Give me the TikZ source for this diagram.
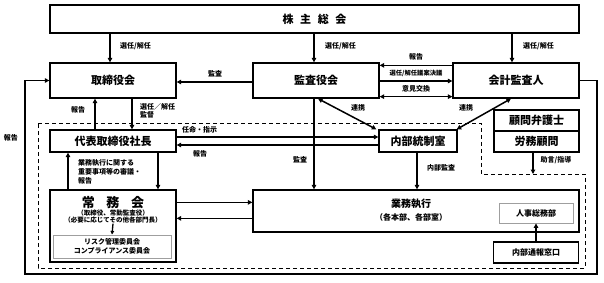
\documentclass[tikz,border=0pt]{standalone}
\usepackage{fontspec}
\setmainfont{Noto Sans CJK JP}
\usepackage{tikz}
\usetikzlibrary{arrows.meta,calc}

\tikzset{
  orgbox/.style={draw, line width=1.3pt, inner sep=0pt, font=\bfseries\fontsize{11}{12}\selectfont},
  subbox/.style={draw=gray!75, line width=0.9pt, inner sep=0pt},
  arr/.style={line width=1.5pt, -{Triangle[length=4.5pt,width=4.5pt]}},
  darr/.style={line width=1.5pt, {Triangle[length=4.5pt,width=4.5pt]}-{Triangle[length=4.5pt,width=4.5pt]}},
  lbl/.style={inner sep=0pt, font=\bfseries\fontsize{7}{8}\selectfont},
  smalltxt/.style={inner sep=0pt, font=\bfseries\fontsize{6.5}{7.5}\selectfont, align=center},
}

\begin{document}
\begin{tikzpicture}[x=1pt,y=-1pt]
  \useasboundingbox (0,0) rectangle (604,283);

  % Top row
  \node[orgbox,minimum width=529pt,minimum height=28pt] (soukai) at (314.5,19) {株\hspace{0.6em}主\hspace{0.6em}総\hspace{0.6em}会};
  \node[orgbox,minimum width=126pt,minimum height=35pt] (torishimari) at (113,80.5) {取締役会};
  \node[orgbox,minimum width=126pt,minimum height=35pt] (kansayaku) at (316,80.5) {監査役会};
  \node[orgbox,minimum width=126pt,minimum height=35pt] (kaikei) at (516,80.5) {会計監査人};

  % Middle row
  \node[orgbox,minimum width=126pt,minimum height=22pt] (daihyo) at (113,141) {代表取締役社長};
  \node[orgbox,minimum width=78pt,minimum height=22pt] (naibu) at (418,141) {内部統制室};
  \node[orgbox,minimum width=85pt,minimum height=21pt] (komon) at (536.5,120.5) {顧問弁護士};
  \node[orgbox,minimum width=85pt,minimum height=21pt] (roumu) at (536.5,141.5) {労務顧問};

  % Bottom row
  \node[orgbox,minimum width=126pt,minimum height=72pt] (joumu) at (113,226) {};
  \node[inner sep=0pt,font=\bfseries\fontsize{13}{14}\selectfont] (joumuTitle) at (113,203) {常\hspace{0.9em}務\hspace{0.9em}会};
  \node[smalltxt] (joumuSub) at (113,216.5) {（取締役、常勤監査役）\\（必要に応じてその他各部門長）};
  \node[subbox,minimum width=118pt,minimum height=23pt,font=\bfseries\fontsize{7}{9}\selectfont,align=center] (risk) at (112,246.5) {リスク管理委員会\\コンプライアンス委員会};
  \node[orgbox,minimum width=326pt,minimum height=42pt] (gyomu) at (416,211) {};
  \node[inner sep=0pt,font=\bfseries\fontsize{10}{11}\selectfont] (gyomuTitle) at (411,204) {業務執行};
  \node[inner sep=0pt,font=\bfseries\fontsize{8}{9}\selectfont] (gyomuSub) at (411,217.5) {（各本部、各部室）};
  \node[subbox,minimum width=74pt,minimum height=20pt,font=\bfseries\fontsize{8}{9}\selectfont] (jinji) at (536,213) {人事総務部};
  \node[orgbox,minimum width=85pt,minimum height=21pt,font=\bfseries\fontsize{8}{9}\selectfont] (tsuho) at (536,252.5) {内部通報窓口};

  % Dashed area
  \draw[line width=0.8pt,dash pattern=on 4pt off 3pt] (38,123) -- (481,123) -- (481,174) -- (585,174) -- (585,268) -- (38,268) -- cycle;
  \coordinate (advice) at (533,174);
  \coordinate (loopR) at (597,274);
  \coordinate (loopL) at (25,274);

  % From the shareholders
  \draw[arr] ($(torishimari.north |- soukai.south)+(-3,0)$) -- ($(torishimari.north)+(-3,0)$);
  \draw[arr] ($(kansayaku.north |- soukai.south)+(-2,0)$) -- ($(kansayaku.north)+(-2,0)$);
  \draw[arr] ($(kaikei.north |- soukai.south)+(-4,0)$) -- ($(kaikei.north)+(-4,0)$);
  \node[lbl,anchor=west] at (120,46) {選任/解任};
  \node[lbl,anchor=west] at (325,46) {選任/解任};
  \node[lbl,anchor=west] at (523,46) {選任/解任};

  % Audit board links
  \draw[arr] ($(kansayaku.west)+(0,1.5)$) -- ($(torishimari.east)+(0,1.5)$);
  \node[lbl] at (215,74) {監査};
  \draw[arr] ($(kaikei.north west)+(0,3)$) -- ($(kansayaku.north east)+(0,3)$);
  \draw[arr] ($(kansayaku.west -| kansayaku.east)+(0,0.5)$) -- ($(kaikei.west)+(0,0.5)$);
  \draw[darr] ($(kansayaku.south east)+(0,-2)$) -- ($(kaikei.south west)+(0,-2)$);
  \node[lbl] at (416,57) {報告};
  \node[inner sep=0pt,font=\bfseries\fontsize{6.3}{7}\selectfont] at (416,73.5) {選任/解任議案決議};
  \node[lbl] at (416,89) {意見交換};

  % Board and president
  \draw[arr] ($(daihyo.north)+(-18,0)$) -- ($(torishimari.south)+(-18,0)$);
  \draw[arr] ($(torishimari.south)+(19,0)$) -- ($(daihyo.north)+(19,0)$);
  \node[lbl] at (78,110) {報告};
  \node[lbl,anchor=west,align=left] at (140,110.5) {選任／解任\\監督};

  % Reporting loop
  \draw[line width=1.5pt,-{Triangle[length=4.5pt,width=4.5pt]}] (kaikei.east) -| (loopR) -- (loopL) |- (torishimari.west);
  \node[lbl] at (11,138) {報告};

  % President and internal control
  \draw[arr] ($(daihyo.east)+(0,-4)$) -- ($(naibu.west)+(0,-4)$);
  \draw[arr] ($(naibu.west)+(0,4)$) -- ($(daihyo.east)+(0,4)$);
  \node[lbl,anchor=west] at (182,129.5) {任命・指示};
  \node[lbl] at (200,153.5) {報告};
  \draw[arr] ($(kansayaku.south)+(-2,0)$) -- ($(kansayaku.south |- gyomu.north)+(-2,0)$);
  \node[lbl] at (300,160) {監査};
  \draw[darr] ($(kansayaku.south)+(2,0)$) -- ($(naibu.north west)+(-2,0)$);
  \draw[darr] ($(kaikei.south)+(-5,0)$) -- ($(naibu.north east)+(-1,0)$);
  \node[lbl] at (358,108) {連携};
  \node[lbl] at (466,108) {連携};
  \draw[arr] ($(naibu.south)+(-1,0)$) -- ($(naibu.south |- gyomu.north)+(-1,0)$);
  \node[lbl] at (441,168) {内部監査};
  \draw[arr] (roumu.south -| advice) -- (advice);
  \node[lbl] at (556,160) {助言/指導};

  % President and executive committee
  \draw[arr] ($(joumu.north)+(-45,0)$) -- ($(daihyo.south)+(-45,0)$);
  \draw[arr] ($(daihyo.south)+(45,0)$) -- ($(joumu.north)+(45,0)$);
  \node[lbl,anchor=west,align=left,font=\bfseries\fontsize{7}{9}\selectfont] at (78,172) {業務執行に関する\\重要事項等の審議・\\報告};
  \draw[line width=1.3pt,-{Triangle[length=3.5pt,width=3.5pt]}] (joumuSub.south) -- (risk.north);
  \draw[arr] ($(joumu.north east)+(0,13)$) -- ($(gyomu.north west)+(0,13)$);
  \draw[arr] ($(gyomu.north west)+(0,29)$) -- ($(joumu.north east)+(0,29)$);
  \draw[arr] (tsuho.north) -- (jinji.south);
\end{tikzpicture}
\end{document}
